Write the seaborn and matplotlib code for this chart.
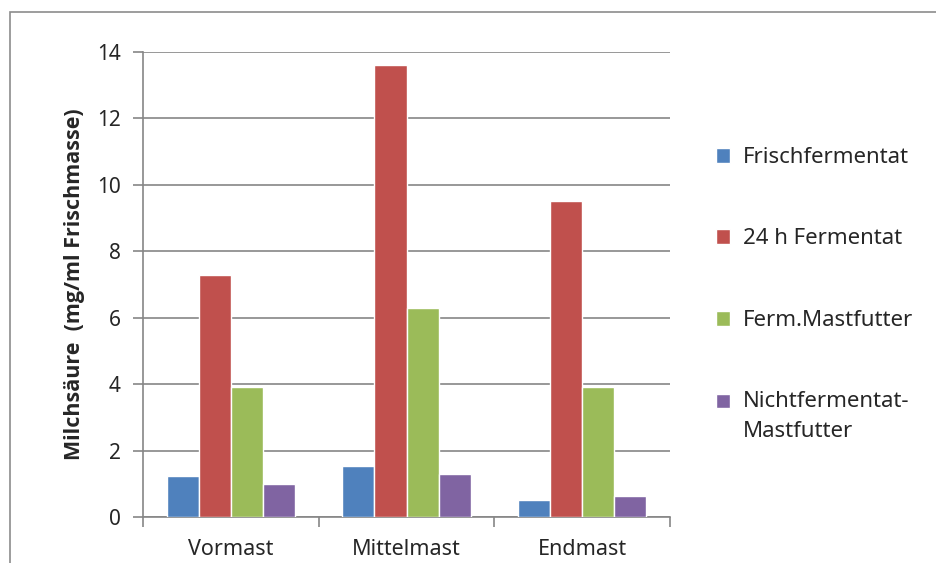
import pandas as pd
import seaborn as sns
import matplotlib.pyplot as plt
import matplotlib.patches as mpatches
from matplotlib.ticker import FixedLocator

# Milchsäure je Mastphase und Futterart
phasen = ['Vormast', 'Mittelmast', 'Endmast']
serien = ['Frischfermentat', '24 h Fermentat', 'Ferm.Mastfutter',
          'Nichtfermentat-\nMastfutter']
frischfermentat = [1.23, 1.55, 0.5]
fermentat_24h = [7.3, 13.6, 9.5]
ferm_mastfutter = [3.9, 6.3, 3.9]
nichtferm_mastfutter = [1.0, 1.3, 0.63]
farben = ['#4F81BD', '#C0504D', '#9BBB59', '#8064A2']

werte = [frischfermentat, fermentat_24h, ferm_mastfutter, nichtferm_mastfutter]
rows = []
for s, vals in zip(serien, werte):
    for p, v in zip(phasen, vals):
        rows.append({'Phase': p, 'Serie': s, 'Wert': v})
df = pd.DataFrame(rows)

sns.set_style('white')
plt.rcParams['font.family'] = ['Noto Sans', 'DejaVu Sans']
fs = 16

fig = plt.figure(figsize=(9.36, 5.63), dpi=100)
ax = fig.add_axes([143 / 936, 1 - 517 / 563, 527 / 936, 465 / 563])

# Rahmen des Diagrammbereichs
fig.patches.append(mpatches.Rectangle((10 / 936, -0.1), 1.2, 1.1 - 12 / 563,
                                      transform=fig.transFigure, fill=False,
                                      edgecolor='#8c8c8c', lw=1.2, zorder=0))

sns.barplot(data=df, x='Phase', y='Wert', hue='Serie', order=phasen,
            hue_order=serien, palette=farben, saturation=1, width=0.73,
            ax=ax, zorder=3)

ax.set_ylim(0, 14)
ax.set_xlim(-0.5, 2.5)
ax.set_yticks(range(0, 15, 2))
ax.yaxis.grid(True, color='#868686', lw=1.2)
ax.set_axisbelow(True)
for side in ['top', 'right']:
    ax.spines[side].set_visible(False)
for side in ['left', 'bottom']:
    ax.spines[side].set_color('#868686')
    ax.spines[side].set_linewidth(1.2)

ax.tick_params(axis='y', length=7, width=1.2, color='#868686', pad=9,
               labelsize=15, direction='out', left=True)
ax.tick_params(axis='x', which='major', length=0, pad=16, labelsize=15.5)
ax.xaxis.set_minor_locator(FixedLocator([-0.5, 0.5, 1.5, 2.5]))
ax.tick_params(axis='x', which='minor', length=7, width=1.2, color='#868686',
               direction='out', bottom=True)

ax.set_xlabel('')
ax.set_ylabel('Milchsäure  (mg/ml Frischmasse)', fontsize=15.5,
              fontweight='bold', family=['Open Sans', 'DejaVu Sans'])
ax.yaxis.set_label_coords(-0.11, 0.5)

leg = ax.legend(loc='upper left', bbox_to_anchor=(716 / 936, 1 - 147 / 563),
                bbox_transform=fig.transFigure, frameon=False, fontsize=fs,
                labelspacing=2.72, handlelength=0.65, handleheight=0.65,
                handletextpad=0.55, borderaxespad=0, borderpad=0)
leg.get_texts()[3].set_linespacing(1.55)
# Quadrat der zweizeiligen Legende auf Höhe der ersten Zeile
rect = leg.legend_handles[3]
rect.set_y(rect.get_y() + 11.5)

fig.savefig('out.png', dpi=100)
